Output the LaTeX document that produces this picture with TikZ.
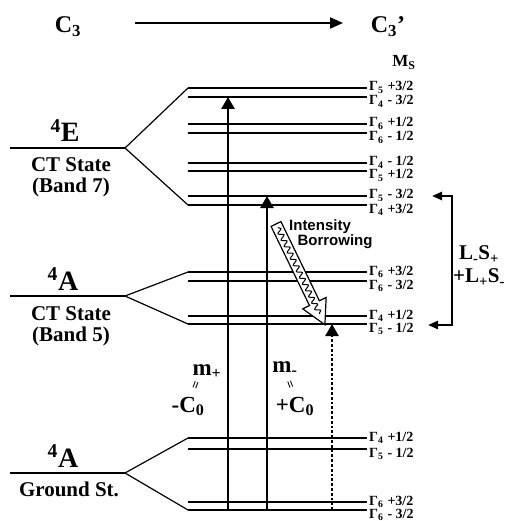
\documentclass[tikz,border=0pt]{standalone}
\usepackage{fontspec}
\setmainfont{Liberation Serif}
\newfontfamily\arialfont{Liberation Sans}
\usetikzlibrary{arrows.meta,decorations.pathmorphing}

\begin{document}
\begin{tikzpicture}[x=1pt,y=-1pt,
  level/.style={line width=2.8pt},
  fan/.style={line width=1.2pt},
  trans/.style={-{Triangle[length=12pt,width=13pt]},line width=2.8pt},
  gam/.style={anchor=base west,inner sep=0pt,font=\bfseries\fontsize{14}{14}\selectfont},
  term/.style={anchor=base,inner sep=0pt,font=\bfseries\fontsize{28}{28}\selectfont},
  note/.style={anchor=north,align=center,inner sep=0pt,font=\bfseries\fontsize{21}{21}\selectfont},
  big/.style={anchor=base,inner sep=0pt,font=\bfseries\fontsize{23}{23}\selectfont},
  eqs/.style={inner sep=0pt,font=\bfseries\fontsize{14}{14}\selectfont},
  brk/.style={{Triangle[length=10pt,width=8pt]}-{Triangle[length=10pt,width=8pt]},line width=2.4pt}]
\useasboundingbox (0,0) rectangle (510,521);
% Symmetry lowering
\node[big,font=\bfseries\fontsize{24}{24}\selectfont] (cthree) at (68,33) {C\textsubscript{3}};
\node[big,font=\bfseries\fontsize{24}{24}\selectfont] (cthreep) at (388,33) {C\textsubscript{3}’};
\draw[-{Triangle[length=13pt,width=11pt]},line width=2pt] (135,23) -- (343,23);
\node[anchor=base,inner sep=0pt,font=\bfseries\fontsize{17}{17}\selectfont] (ms) at (404,67) {M\textsubscript{S}};
% Split levels with labels
\foreach \y/\g/\v/\d in {88/5/+3/3, 97/4/{- 3}/8, 124/6/+1/3, 133/6/{- 1}/8,
    163/4/{- 1}/3, 171/5/+1/8, 196/5/{- 3}/3, 205/4/+3/8,
    272/6/+3/3, 281/6/{- 3}/8, 316/4/+1/3, 324/5/{- 1}/8,
    438/4/+1/3, 449/5/{- 1}/8, 502/6/+3/3, 510/6/{- 3}/8}{
  \coordinate (l\y) at (188,\y);
  \draw[level] (l\y) -- (367,\y);
  \node[gam] (g\y) at (369,\y+\d) {Γ\textsubscript{\g}\hspace{4pt}\v/2};
}
% Parent states
\coordinate (ee) at (125,148);
\coordinate (aa) at (125,296);
\coordinate (gg) at (125,473);
\draw[level] (10,148) -- (ee);
\draw[level] (10,296) -- (aa);
\draw[level] (10,473) -- (gg);
\draw[fan] (l88) -- (ee) -- (l205);
\draw[fan] (l272) -- (aa) -- (l324);
\draw[fan] (l438) -- (gg) -- (l510);
\node[term] (te) at (65,142) {\textsuperscript{4}E};
\node[note] (ne) at (71,157) {CT State\\(Band 7)};
\node[term] (ta) at (63,290) {\textsuperscript{4}A};
\node[note] (na) at (71,306) {CT State\\(Band 5)};
\node[term] (tg) at (63,467) {\textsuperscript{4}A};
\node[note] (ng) at (69,482) {Ground St.};
% Transitions
\coordinate (mplus) at (228,0);
\coordinate (mminus) at (267,0);
\coordinate (mdot) at (332,0);
\draw[trans] (l510 -| mplus) -- (l97 -| mplus);
\draw[trans] (l510 -| mminus) -- (l196 -| mminus);
\draw[trans,dotted,line width=2.4pt] (l510 -| mdot) -- (l324 -| mdot);
\node[big] (mp) at (207,375) {m\textsubscript{+}};
\node[eqs,rotate=70] (eqp) at (197,386) {=};
\node[big] (cp) at (188,412) {-C\textsubscript{0}};
\node[big] (mm) at (285,372) {m\textsubscript{-}};
\node[eqs,rotate=-70] (eqm) at (289,385) {=};
\node[big] (cm) at (295,412) {+C\textsubscript{0}};
% Intensity borrowing
\begin{scope}[shift={(276,224)},rotate=-64.1]
  \draw[fill=white,line width=1.2pt] (0,5.5) -- (88,5.5) -- (88,13) -- (112,0) -- (88,-13) -- (88,-5.5) -- (0,-5.5) -- cycle;
  \draw[line width=1pt,decorate,decoration={snake,segment length=7pt,amplitude=2.5pt}] (4,0) -- (100,0);
\end{scope}
\node[inner sep=0pt,font=\arialfont\bfseries\fontsize{15}{15}\selectfont] (ib1) at (320,227) {Intensity};
\node[inner sep=0pt,font=\arialfont\bfseries\fontsize{15}{15}\selectfont] (ib2) at (335,242) {Borrowing};
% Spin-orbit coupling
\coordinate (bt) at (432,196);
\coordinate (bb) at (428,325);
\draw[brk] (bt) -- ++(20,0) |- (bb);
\node[align=center,inner sep=0pt,font=\bfseries\fontsize{21}{23}\selectfont] (so) at (479,266) {L\textsubscript{-}S\textsubscript{+}\\+L\textsubscript{+}S\textsubscript{-}};
\end{tikzpicture}
\end{document}
